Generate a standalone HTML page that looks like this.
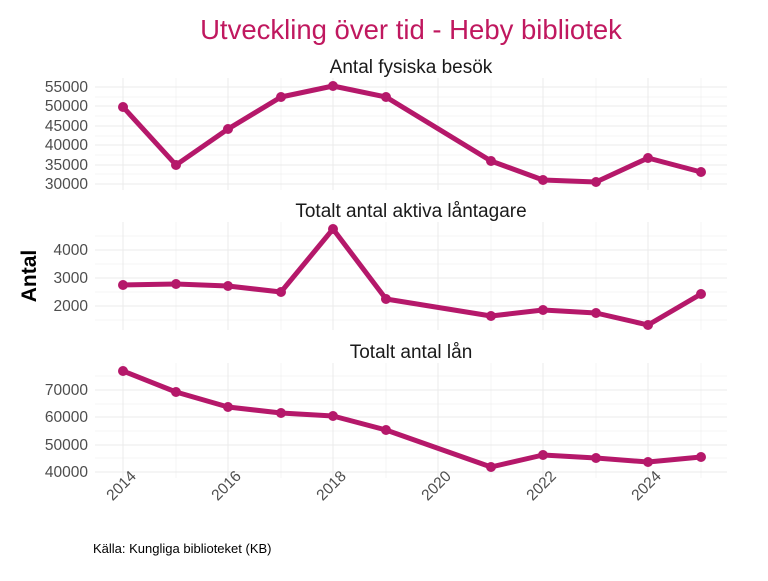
<!DOCTYPE html>
<html><head><meta charset="utf-8"><style>
body{margin:0;background:#fff;width:768px;height:576px;overflow:hidden}
text{font-family:"Liberation Sans",sans-serif}
</style></head><body>
<svg width="768" height="576" viewBox="0 0 768 576" xmlns="http://www.w3.org/2000/svg">
<text x="411" y="39" font-size="27.5" fill="#C0185F" text-anchor="middle">Utveckling över tid - Heby bibliotek</text>
<text x="411" y="73" font-size="19" fill="#1a1a1a" text-anchor="middle">Antal fysiska besök</text>
<text x="411" y="217" font-size="19" fill="#1a1a1a" text-anchor="middle">Totalt antal aktiva låntagare</text>
<text x="411" y="358" font-size="19" fill="#1a1a1a" text-anchor="middle">Totalt antal lån</text>
<text transform="translate(36,276) rotate(-90)" font-size="21" font-weight="bold" fill="#000" text-anchor="middle">Antal</text>
<g stroke="#ebebeb" stroke-width="1" fill="none">
<path d="M95 87H727M95 106H727M95 126H727M95 145H727M95 165H727M95 184H727"/>
<path d="M95 97H727M95 116H727M95 136H727M95 155H727M95 174H727" stroke-width="0.5"/>
<path d="M95 250H727M95 278H727M95 306H727"/>
<path d="M95 236H727M95 264H727M95 292H727M95 320H727" stroke-width="0.5"/>
<path d="M95 390H727M95 417H727M95 445H727M95 472H727"/>
<path d="M95 376H727M95 404H727M95 431H727M95 458H727" stroke-width="0.5"/>
</g>
<g stroke="#ebebeb" fill="none">
<path d="M123 78V190M228 78V190M333 78V190M438 78V190M543 78V190M648 78V190"/>
<path d="M123 222V330M228 222V330M333 222V330M438 222V330M543 222V330M648 222V330"/>
<path d="M123 363V478M228 363V478M333 363V478M438 363V478M543 363V478M648 363V478"/>
<g stroke-width="0.5">
<path d="M176 78V190M281 78V190M386 78V190M491 78V190M596 78V190M701 78V190"/>
<path d="M176 222V330M281 222V330M386 222V330M491 222V330M596 222V330M701 222V330"/>
<path d="M176 363V478M281 363V478M386 363V478M491 363V478M596 363V478M701 363V478"/>
</g></g>
<g font-size="15.5" fill="#4d4d4d" text-anchor="end">
<text x="88" y="92">55000</text><text x="88" y="111">50000</text><text x="88" y="131">45000</text><text x="88" y="150">40000</text><text x="88" y="170">35000</text><text x="88" y="189">30000</text>
<text x="88" y="255">4000</text><text x="88" y="283">3000</text><text x="88" y="311">2000</text>
<text x="88" y="395">70000</text><text x="88" y="422">60000</text><text x="88" y="450">50000</text><text x="88" y="477">40000</text>
</g>
<g font-size="15.5" fill="#4d4d4d" text-anchor="end">
<text transform="translate(137,477) rotate(-45)">2014</text>
<text transform="translate(242,477) rotate(-45)">2016</text>
<text transform="translate(347,477) rotate(-45)">2018</text>
<text transform="translate(452,477) rotate(-45)">2020</text>
<text transform="translate(557,477) rotate(-45)">2022</text>
<text transform="translate(662,477) rotate(-45)">2024</text>
</g>
<g fill="none" stroke="#B5186A" stroke-width="5" stroke-linejoin="round">
<polyline points="123,107 176,165 228,129 281,97 333,86 386,97 491,161 543,180 596,182 648,158 701,172"/>
<polyline points="123,285 176,284 228,286 281,292 333,229 386,299 491,316 543,310 596,313 648,325 701,294"/>
<polyline points="123,371 176,392 228,407 281,413 333,416 386,430 491,467 543,455 596,458 648,462 701,457"/>
</g>
<g fill="#B5186A">
<circle cx="123" cy="107" r="5"/><circle cx="176" cy="165" r="5"/><circle cx="228" cy="129" r="5"/><circle cx="281" cy="97" r="5"/><circle cx="333" cy="86" r="5"/><circle cx="386" cy="97" r="5"/><circle cx="491" cy="161" r="5"/><circle cx="543" cy="180" r="5"/><circle cx="596" cy="182" r="5"/><circle cx="648" cy="158" r="5"/><circle cx="701" cy="172" r="5"/>
<circle cx="123" cy="285" r="5"/><circle cx="176" cy="284" r="5"/><circle cx="228" cy="286" r="5"/><circle cx="281" cy="292" r="5"/><circle cx="333" cy="229" r="5"/><circle cx="386" cy="299" r="5"/><circle cx="491" cy="316" r="5"/><circle cx="543" cy="310" r="5"/><circle cx="596" cy="313" r="5"/><circle cx="648" cy="325" r="5"/><circle cx="701" cy="294" r="5"/>
<circle cx="123" cy="371" r="5"/><circle cx="176" cy="392" r="5"/><circle cx="228" cy="407" r="5"/><circle cx="281" cy="413" r="5"/><circle cx="333" cy="416" r="5"/><circle cx="386" cy="430" r="5"/><circle cx="491" cy="467" r="5"/><circle cx="543" cy="455" r="5"/><circle cx="596" cy="458" r="5"/><circle cx="648" cy="462" r="5"/><circle cx="701" cy="457" r="5"/>
</g>
<text x="93" y="553" font-size="13" fill="#000">Källa: Kungliga biblioteket (KB)</text>
</svg>
</body></html>
